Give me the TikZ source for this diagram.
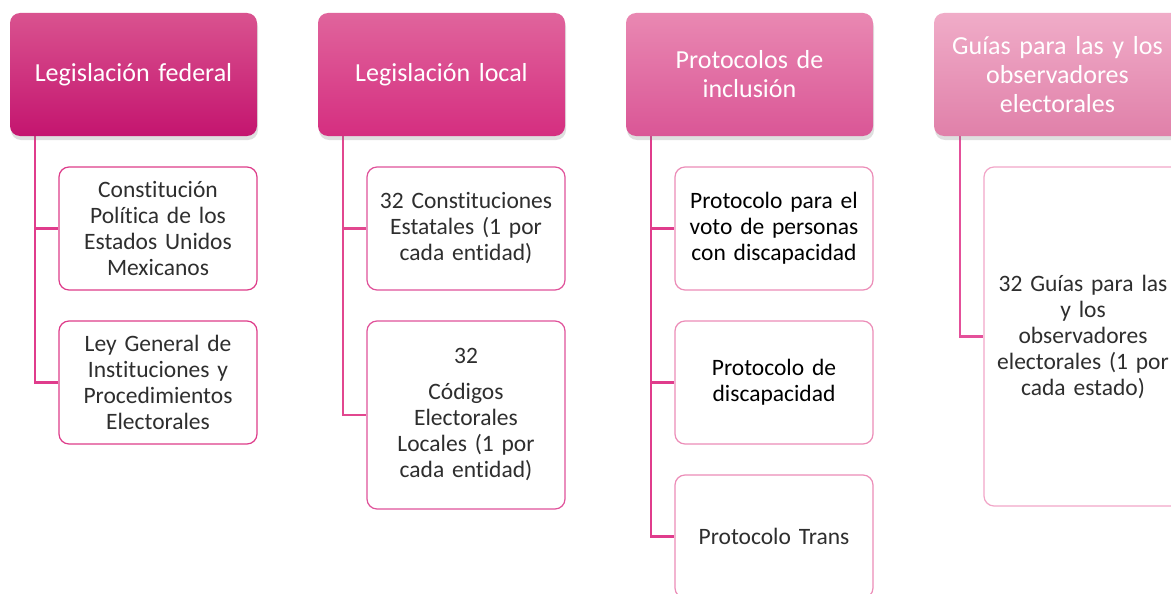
\documentclass[tikz,border=0pt]{standalone}
\usepackage{fontspec}
\setmainfont[Ligatures=NoCommon]{Carlito}
\usetikzlibrary{shadows}
\definecolor{hAt}{HTML}{D9528F}
\definecolor{hAb}{HTML}{C4156F}
\definecolor{hBt}{HTML}{E0649C}
\definecolor{hBb}{HTML}{D52E80}
\definecolor{hCt}{HTML}{E988B2}
\definecolor{hCb}{HTML}{DA5696}
\definecolor{hDt}{HTML}{F0ACC8}
\definecolor{hDb}{HTML}{E080A9}
\definecolor{connA}{HTML}{E03C8C}
\definecolor{connB}{HTML}{E2478F}
\definecolor{connC}{HTML}{E4509A}
\definecolor{brdA}{HTML}{DE3C8A}
\definecolor{brdB}{HTML}{E0529A}
\definecolor{brdC}{HTML}{EC8DB8}
\definecolor{brdD}{HTML}{F2A6C8}
\definecolor{txt}{HTML}{2E2E2E}
\tikzset{
  header/.style={rounded corners=10pt, minimum width=247pt, minimum height=123pt,
    inner sep=0pt, text width=235pt, align=center, text=white,
    font=\fontsize{26}{29}\selectfont,
    drop shadow={opacity=0.25, shadow xshift=1pt, shadow yshift=-4pt}},
  child/.style={draw, fill=white, rounded corners=10pt, line width=1.2pt,
    minimum width=198pt, inner sep=0pt, text width=186pt, align=center,
    text=txt, font=\fontsize{23.5}{26}\selectfont},
  conn/.style={line width=2.6pt, line join=miter}
}
\begin{document}
\begin{tikzpicture}[x=1pt,y=-1pt]
\clip (0,0) rectangle (1171,594);
\fill[white] (0,0) rectangle (1171,594);
% children
\node[child, draw=brdA, minimum height=123pt] (c11) at (158,228.5) {Constitución\\Política de los\\Estados Unidos\\Mexicanos};
\node[child, draw=brdA, minimum height=123pt] (c12) at (158,382.5) {Ley General de\\Instituciones y\\Procedimientos\\Electorales};
\node[child, draw=brdB, minimum height=123pt] (c21) at (466,228.5) {32 Constituciones\\Estatales (1 por\\cada entidad)};
\node[child, draw=brdB, minimum height=188pt] (c22) at (466,415) {32\\[10pt]Códigos\\Electorales\\Locales (1 por\\cada entidad)};
\node[child, draw=brdC, minimum height=123pt, text=black] (c31) at (774,228.5) {Protocolo para el\\voto de personas\\con discapacidad};
\node[child, draw=brdC, minimum height=123pt, text=black] (c32) at (774,382.5) {Protocolo de\\discapacidad};
\node[child, draw=brdC, minimum height=123pt] (c33) at (774,536.5) {Protocolo Trans};
\node[child, draw=brdD, minimum height=339pt] (c41) at (1083,336.5) {32 Guías para las\\y los\\observadores\\electorales (1 por\\cada estado)};
% connector start points under the headers
\coordinate (h1a) at (35,130);
\coordinate (h2a) at (343,130);
\coordinate (h3a) at (651,130);
\coordinate (h4a) at (960,130);
% connectors
\draw[conn, connA] (h1a) |- (c11.west);
\draw[conn, connA] (h1a) |- (c12.west);
\draw[conn, connB] (h2a) |- (c21.west);
\draw[conn, connB] (h2a) |- (c22.west);
\draw[conn, connA] (h3a) |- (c31.west);
\draw[conn, connA] (h3a) |- (c32.west);
\draw[conn, connA] (h3a) |- (c33.west);
\draw[conn, connC] (h4a) |- (c41.west);
% headers
\node[header, top color=hAt, bottom color=hAb] (h1) at (133.5,74.5) {Legislación federal};
\node[header, top color=hBt, bottom color=hBb] (h2) at (441.5,74.5) {Legislación local};
\node[header, top color=hCt, bottom color=hCb] (h3) at (749.5,74.5) {Protocolos de\\inclusión};
\node[header, top color=hDt, bottom color=hDb] (h4) at (1057.5,74.5) {Guías para las y los\\observadores\\electorales};
\end{tikzpicture}
\end{document}
